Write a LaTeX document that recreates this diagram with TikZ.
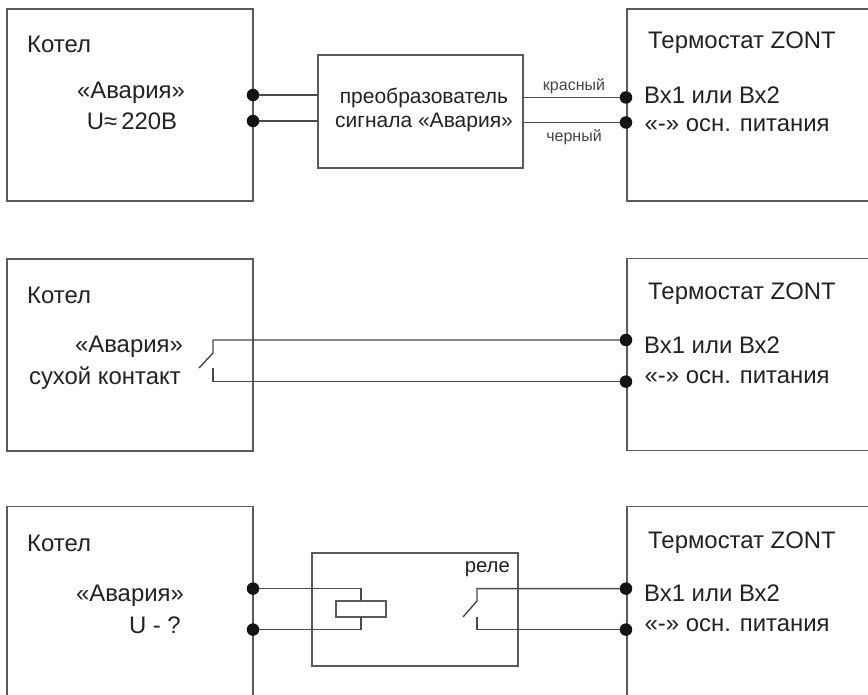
\documentclass[tikz,border=0pt]{standalone}
\usepackage{fontspec}
\setmainfont{Liberation Sans}
\definecolor{ln}{HTML}{5A5A5A}
\definecolor{wr}{HTML}{4A4A4A}
\definecolor{tx}{HTML}{222222}
\tikzset{
  boxn/.style={draw=ln,line width=1.4pt,rectangle,inner sep=0pt,outer sep=0pt},
  wire/.style={draw=wr,line width=1.4pt,line join=miter},
  dotn/.style={circle,fill=black!92,inner sep=0pt,minimum size=12.5pt,outer sep=0pt},
  big/.style={text=tx,font=\fontsize{23.9}{26}\selectfont,inner sep=0pt},
  mid/.style={text=tx,font=\fontsize{21}{24}\selectfont,inner sep=0pt},
  sml/.style={text=tx!85!white,font=\fontsize{16}{18}\selectfont,inner sep=0pt},
  rel/.style={text=tx,font=\fontsize{20.3}{22}\selectfont,inner sep=0pt}
}
\begin{document}
\begin{tikzpicture}[x=1pt,y=-1pt]
\clip (0,0) rectangle (868,695);
\fill[white] (0,0) rectangle (868,695);
% row 1
\node[boxn,minimum width=246pt,minimum height=192pt] (k1) at (130,105) {};
\node[boxn,minimum width=300pt,minimum height=192pt] (t1) at (777,105) {};
\node[boxn,minimum width=205pt,minimum height=113pt] (conv) at (420.5,111.5) {};
\node[big,anchor=base west] (k1a) at (27,53) {Котел};
\node[big,anchor=base] (k1b) at (131,98.5) {«Авария»};
\node[big,anchor=base] (k1c) at (132,129.5) {U≈\,220В};
\node[big,anchor=base west] (t1a) at (648,49) {Термостат ZONT};
\node[big,anchor=base west] (t1b) at (644,103.5) {Вх1 или Вх2};
\node[big,anchor=base west] (t1c) at (644.5,132) {«-» осн. питания};
\node[mid,anchor=base] (c1) at (424,103.5) {преобразователь};
\node[mid,anchor=base] (c2) at (424,127.5) {сигнала «Авария»};
\node[sml,anchor=base] (l1) at (574,91) {красный};
\node[sml,anchor=base] (l2) at (574,142) {черный};
\node[dotn] (a1) at (253,95) {};
\node[dotn] (a2) at (253,121) {};
\node[dotn] (b1) at (626,97.5) {};
\node[dotn] (b2) at (626,122.5) {};
\draw[wire] (a1) -- (conv.west |- a1);
\draw[wire] (a2) -- (conv.west |- a2);
\draw[wire] (conv.east |- b1) -- (b1);
\draw[wire] (conv.east |- b2) -- (b2);
% row 2
\node[boxn,minimum width=246pt,minimum height=192pt] (k2) at (130,355) {};
\node[boxn,minimum width=300pt,minimum height=192pt] (t2) at (777,354.5) {};
\node[big,anchor=base west] (k2a) at (27,303) {Котел};
\node[big,anchor=base] (k2b) at (129,352.5) {«Авария»};
\node[big,anchor=base east] (k2c) at (181,384.5) {сухой контакт};
\node[big,anchor=base west] (t2a) at (648,300) {Термостат ZONT};
\node[big,anchor=base west] (t2b) at (644,353.5) {Вх1 или Вх2};
\node[big,anchor=base west] (t2c) at (644.5,383) {«-» осн. питания};
\node[dotn] (d1) at (626,340) {};
\node[dotn] (d2) at (626,381.6) {};
\coordinate (s1) at (213,340);
\coordinate (s2) at (213,353);
\coordinate (s3) at (199,368);
\coordinate (s4) at (213,368);
\coordinate (s5) at (213,381.6);
\draw[wire] (d1) -- (s1) -- (s2) -- (s3);
\draw[wire] (s4) -- (s5) -- (d2);
% row 3
\node[boxn,minimum width=246pt,minimum height=300pt] (k3) at (130,656.5) {};
\node[boxn,minimum width=300pt,minimum height=300pt] (t3) at (777,656.5) {};
\node[boxn,minimum width=206pt,minimum height=113pt] (relay) at (415,609.5) {};
\node[boxn,minimum width=50pt,minimum height=16pt] (coil) at (361,609) {};
\node[big,anchor=base west] (k3a) at (27,551) {Котел};
\node[big,anchor=base] (k3b) at (130,601.5) {«Авария»};
\node[big,anchor=base east] (k3c) at (181,633.5) {U - ?};
\node[big,anchor=base west] (t3a) at (648,548) {Термостат ZONT};
\node[big,anchor=base west] (t3b) at (644,601.5) {Вх1 или Вх2};
\node[big,anchor=base west] (t3c) at (644.5,631) {«-» осн. питания};
\node[rel,anchor=base east] (r1) at (510,572.5) {реле};
\node[dotn] (e1) at (253,588.6) {};
\node[dotn] (e2) at (253,629.6) {};
\node[dotn] (f1) at (626,588.6) {};
\node[dotn] (f2) at (626,629.6) {};
\coordinate (q1) at (477,588.6);
\coordinate (q2) at (477,601);
\coordinate (q3) at (463,617);
\coordinate (q4) at (477,617);
\coordinate (q5) at (477,629.6);
\draw[wire] (e1) -| (coil.north);
\draw[wire] (e2) -| (coil.south);
\draw[wire] (f1) -- (q1) -- (q2) -- (q3);
\draw[wire] (q4) -- (q5) -- (f2);
\end{tikzpicture}
\end{document}
